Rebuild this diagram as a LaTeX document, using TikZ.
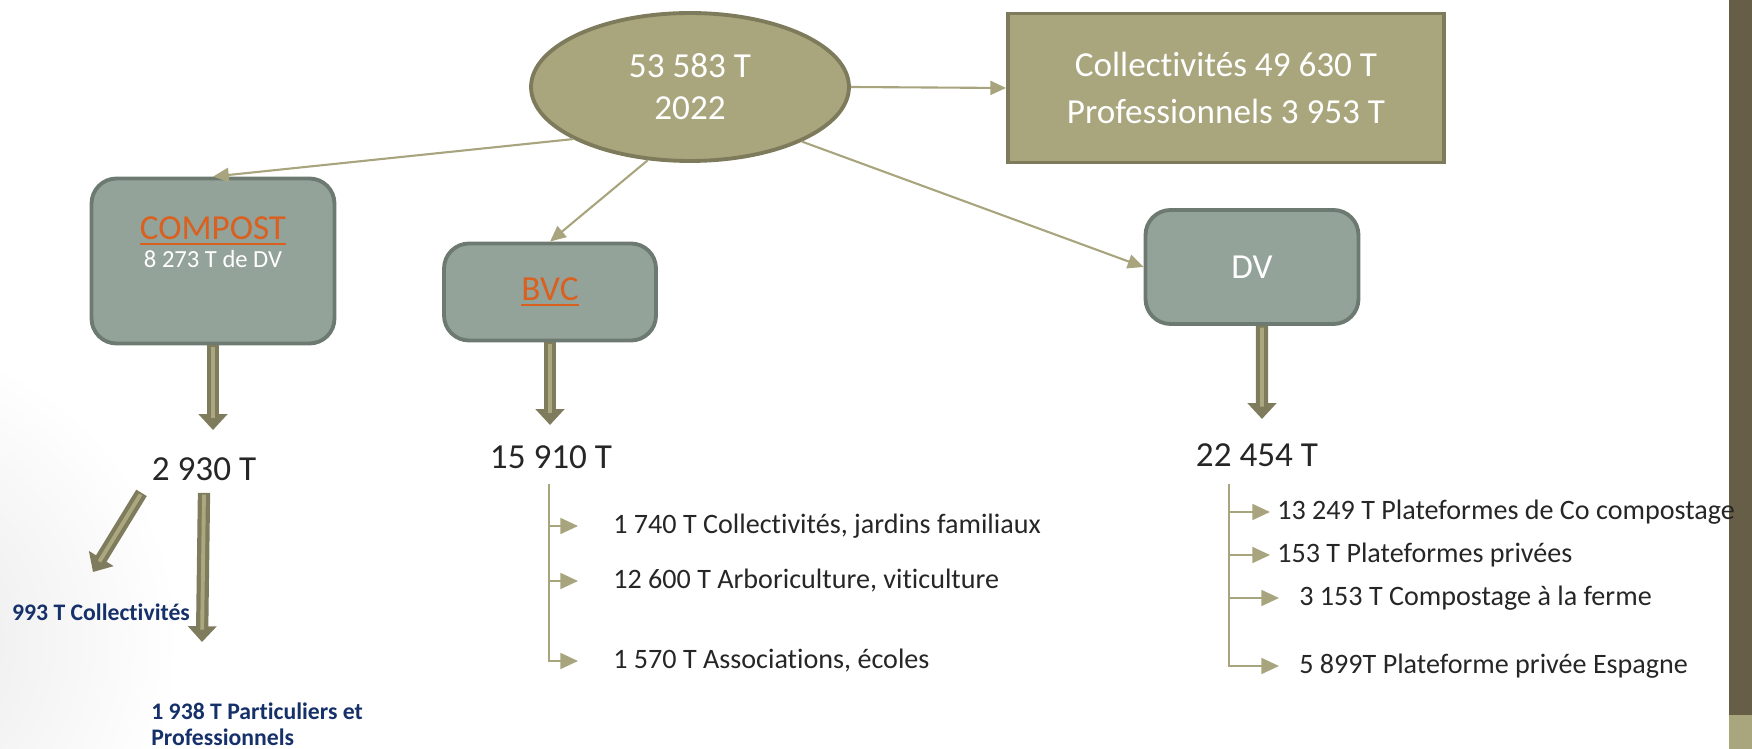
\documentclass[tikz,border=0pt]{standalone}
\usepackage{fontspec}
\setmainfont{Carlito}[Ligatures=NoCommon]
\usetikzlibrary{arrows.meta,shapes.geometric}
\definecolor{olivefill}{HTML}{A9A57C}
\definecolor{olivedraw}{HTML}{7D7B5B}
\definecolor{sagefill}{HTML}{94A39A}
\definecolor{sagedraw}{HTML}{6D7A71}
\definecolor{rustorange}{HTML}{D9601F}
\definecolor{linkline}{HTML}{A8A57E}
\definecolor{fatdark}{HTML}{7F7C5D}
\definecolor{fatlight}{HTML}{ABA880}
\definecolor{inkdark}{HTML}{262626}
\definecolor{navyblue}{HTML}{16306A}
\definecolor{sidebar}{HTML}{675E48}
\newcommand{\ulword}[1]{\leavevmode\vtop{\hbox{#1}\kern2pt\hrule height 1.1pt}}

\begin{document}
\begin{tikzpicture}[x=0.02cm, y=-0.02cm,
    mainellipse/.style={ellipse, draw=olivedraw, fill=olivefill, line width=2.2pt, minimum width=6.36cm, minimum height=2.96cm, inner sep=0pt, align=center, text=white, font=\fontsize{20}{24}\selectfont},
    splitbox/.style={rectangle, draw=olivedraw, fill=olivefill, line width=2.2pt, minimum width=8.72cm, minimum height=2.98cm, align=center, text=white, font=\fontsize{20}{27}\selectfont},
    sagebox/.style={rectangle, rounded corners=0.5cm, draw=sagedraw, fill=sagefill, line width=2.2pt, font=\fontsize{20}{24}\selectfont},
    boxnote/.style={text=white, inner sep=0pt, font=\fontsize{14}{17}\selectfont},
    amount/.style={text=inkdark, inner sep=0pt, font=\fontsize{20}{24}\selectfont},
    usage/.style={text=navyblue, inner sep=0pt, align=left, font=\bfseries\fontsize{13.5}{14.7}\selectfont},
    listitem/.style={anchor=west, text=inkdark, inner sep=0pt, font=\fontsize{16}{19}\selectfont},
    thinarrow/.style={draw=linkline, line width=1.2pt, -{Triangle[length=9pt,width=8pt]}},
    listarrow/.style={draw=linkline, line width=1.3pt, -{Triangle[length=10pt,width=9pt]}},
    fatarrow/.style={draw=fatdark, line width=7pt, -{Triangle[length=9pt,width=16pt]},
        postaction={draw=fatlight, line width=2.2pt, -, shorten >=7pt, shorten <=1pt}}
]
\useasboundingbox (0,0) rectangle (1752,749);
\shade[inner color=black!9, outer color=white] (-120,640) circle (300);
\fill[sidebar] (1729,0) rectangle (1752,749);
\fill[olivefill] (1729,715) rectangle (1752,749);

% top row
\node[mainellipse] (total) at (690,87) {53 583 T\\2022};
\node[splitbox] (origins) at (1226,88) {Collectivités 49 630 T\\Professionnels 3 953 T};

% three channels
\node[sagebox, minimum width=4.86cm, minimum height=3.3cm] (compost) at (213,261) {};
\node[text=rustorange, inner sep=0pt, font=\fontsize{20}{24}\selectfont] (compostname) at (213,231) {\ulword{COMPOST}};
\node[boxnote] (compostdv) at (213,259) {8 273 T de DV};
\node[sagebox, minimum width=4.24cm, minimum height=1.94cm, text=rustorange] (bvc) at (550,292) {\ulword{BVC}};
\node[sagebox, minimum width=4.26cm, minimum height=2.28cm, text=white] (dv) at (1252,267) {DV};

\draw[thinarrow] (total.east) -- (origins.west);
\draw[thinarrow] (total.204) -- (compost.north);
\draw[thinarrow] (total.240) -- (bvc.north);
\draw[thinarrow] (total.334) -- (dv.west);

% amounts
\node[amount] (compostout) at (204,469) {2 930 T};
\node[amount] (bvcout) at (551,457) {15 910 T};
\node[amount] (dvout) at (1257,455) {22 454 T};

\coordinate (compostTip) at (213,430);
\coordinate (bvcTip) at (550,425);
\coordinate (dvTip) at (1262,419);
\draw[fatarrow] (compost.south) -- (compostTip);
\draw[fatarrow] (bvc.south) -- (bvcTip);
\draw[fatarrow] ([xshift=0.2cm]dv.south) -- (dvTip);

% compost split
\node[usage] (coll993) at (101,612) {993 T Collectivités};
\node[usage, anchor=north west] (part1938) at (151,703) {1 938 T Particuliers et\\Professionnels};
\coordinate (coll993Tip) at (93,572);
\coordinate (part1938Tip) at (202,642);
\draw[fatarrow] ([xshift=-0.2cm,yshift=-0.24cm]compostout.south west) -- (coll993Tip);
\draw[fatarrow] ([yshift=-0.24cm]compostout.south) -- (part1938Tip);

% BVC list
\node[listitem] (bvcA) at (613,526) {1 740 T Collectivités, jardins familiaux};
\node[listitem] (bvcB) at (613,581) {12 600 T Arboriculture, viticulture};
\node[listitem] (bvcC) at (613,661) {1 570 T Associations, écoles};
\coordinate (bvcbar) at (549,484);
\draw[listarrow, shorten >=0.7cm] (bvcbar) |- (bvcC);
\draw[listarrow, shorten >=0.7cm] (bvcbar |- bvcA) -- (bvcA);
\draw[listarrow, shorten >=0.7cm] (bvcbar |- bvcB) -- (bvcB);

% DV list
\node[listitem] (dvA) at (1277,512) {13 249 T Plateformes de Co compostage};
\node[listitem] (dvB) at (1277,555) {153 T Plateformes privées};
\node[listitem] (dvC) at (1299,598) {3 153 T Compostage à la ferme};
\node[listitem] (dvD) at (1299,666) {5 899T Plateforme privée Espagne};
\coordinate (dvbar) at (1229,484);
\draw[listarrow, shorten >=0.4cm] (dvbar) |- (dvD);
\draw[listarrow, shorten >=0.14cm] (dvbar |- dvA) -- (dvA);
\draw[listarrow, shorten >=0.14cm] (dvbar |- dvB) -- (dvB);
\draw[listarrow, shorten >=0.4cm] (dvbar |- dvC) -- (dvC);
\end{tikzpicture}
\end{document}
